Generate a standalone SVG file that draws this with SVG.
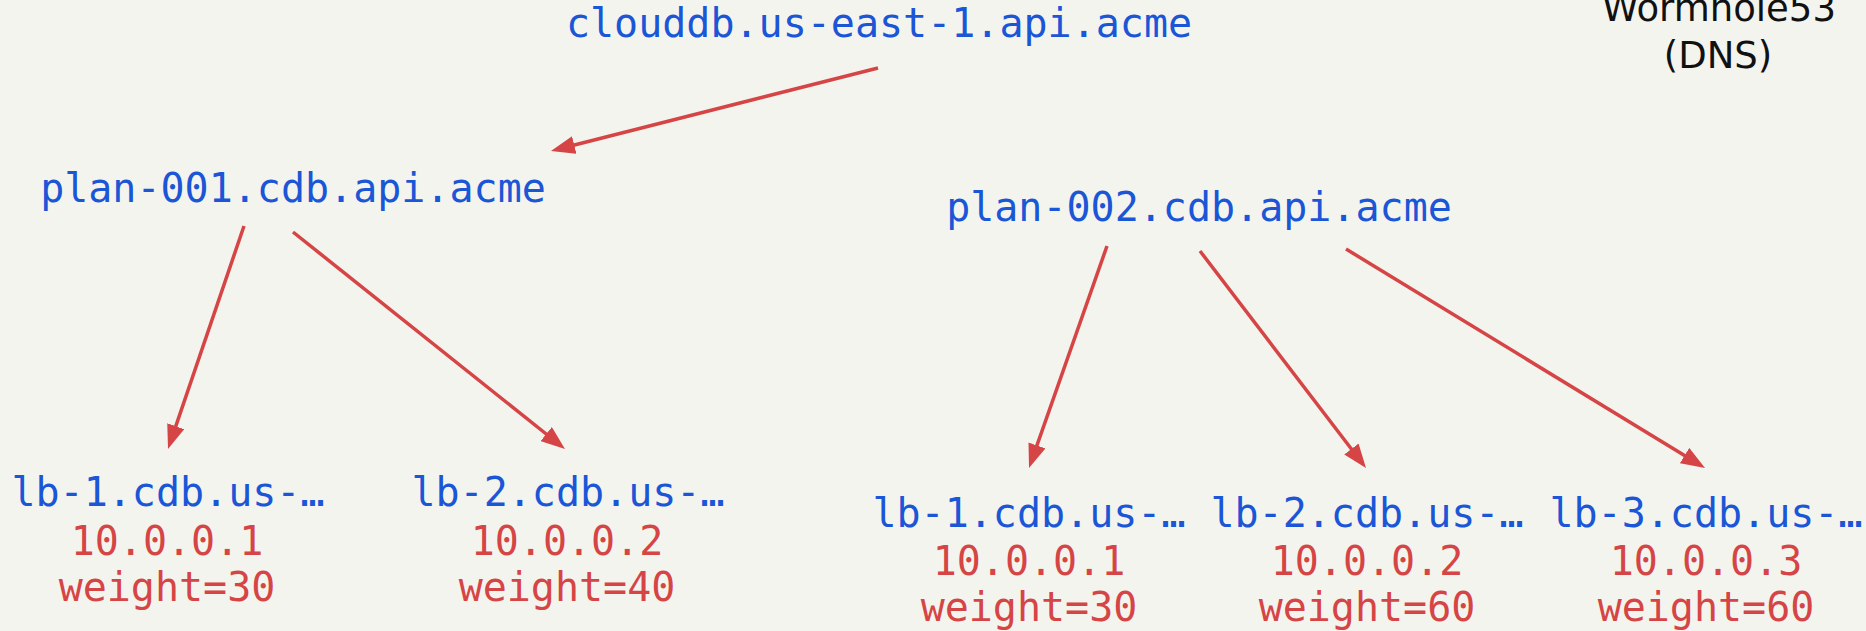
<svg xmlns="http://www.w3.org/2000/svg" width="1866" height="631" viewBox="0 0 1866 631">
  <style>
    .host { font-family: "DejaVu Sans Mono", "Liberation Mono", monospace; font-size: 40px; fill: #1a56d6; text-anchor: middle; }
    .rec { font-family: "DejaVu Sans Mono", "Liberation Mono", monospace; font-size: 40px; fill: #d64545; text-anchor: middle; }
    .label { font-family: "DejaVu Sans", "Liberation Sans", sans-serif; font-size: 37px; fill: #111111; text-anchor: middle; }
    .edge { stroke: #d64545; stroke-width: 3.5; fill: none; marker-end: url(#arrow); }
  </style>
  <defs>
    <marker id="arrow" markerUnits="userSpaceOnUse" markerWidth="24" markerHeight="18" refX="12" refY="9" orient="auto">
      <path d="M0,0 L24,9 L0,18 z" fill="#d64545"/>
    </marker>
  </defs>
  <rect width="1866" height="631" fill="#f4f4ef"/>

  <!-- service label -->
  <g id="dns-label">
    <text class="label" x="1719" y="21">Wormhole53</text>
    <text class="label" x="1718" y="68">(DNS)</text>
  </g>

  <!-- connectors -->
  <g id="connectors">
    <line class="edge" x1="878" y1="68" x2="562.6" y2="148.0"/>
    <line class="edge" x1="244" y1="226" x2="171.9" y2="437.6"/>
    <line class="edge" x1="293" y1="232" x2="555.6" y2="441.5"/>
    <line class="edge" x1="1107" y1="246" x2="1033.0" y2="456.7"/>
    <line class="edge" x1="1200" y1="251" x2="1358.7" y2="458.5"/>
    <line class="edge" x1="1346" y1="249" x2="1694.8" y2="461.8"/>
  </g>

  <!-- nodes -->
  <g id="root">
    <text class="host" x="879" y="37">clouddb.us-east-1.api.acme</text>
  </g>
  <g id="plan-001">
    <text class="host" x="293" y="202">plan-001.cdb.api.acme</text>
  </g>
  <g id="plan-002">
    <text class="host" x="1199" y="221">plan-002.cdb.api.acme</text>
  </g>

  <g id="p1-lb-1">
    <text class="host" x="168" y="506">lb-1.cdb.us-…</text>
    <text class="rec" x="167" y="555">10.0.0.1</text>
    <text class="rec" x="167" y="601">weight=30</text>
  </g>
  <g id="p1-lb-2">
    <text class="host" x="568" y="506">lb-2.cdb.us-…</text>
    <text class="rec" x="567" y="555">10.0.0.2</text>
    <text class="rec" x="567" y="601">weight=40</text>
  </g>

  <g id="p2-lb-1">
    <text class="host" x="1029" y="527">lb-1.cdb.us-…</text>
    <text class="rec" x="1029" y="575">10.0.0.1</text>
    <text class="rec" x="1029" y="621">weight=30</text>
  </g>
  <g id="p2-lb-2">
    <text class="host" x="1367" y="527">lb-2.cdb.us-…</text>
    <text class="rec" x="1367" y="575">10.0.0.2</text>
    <text class="rec" x="1367" y="621">weight=60</text>
  </g>
  <g id="p2-lb-3">
    <text class="host" x="1706" y="527">lb-3.cdb.us-…</text>
    <text class="rec" x="1706" y="575">10.0.0.3</text>
    <text class="rec" x="1706" y="621">weight=60</text>
  </g>
</svg>
